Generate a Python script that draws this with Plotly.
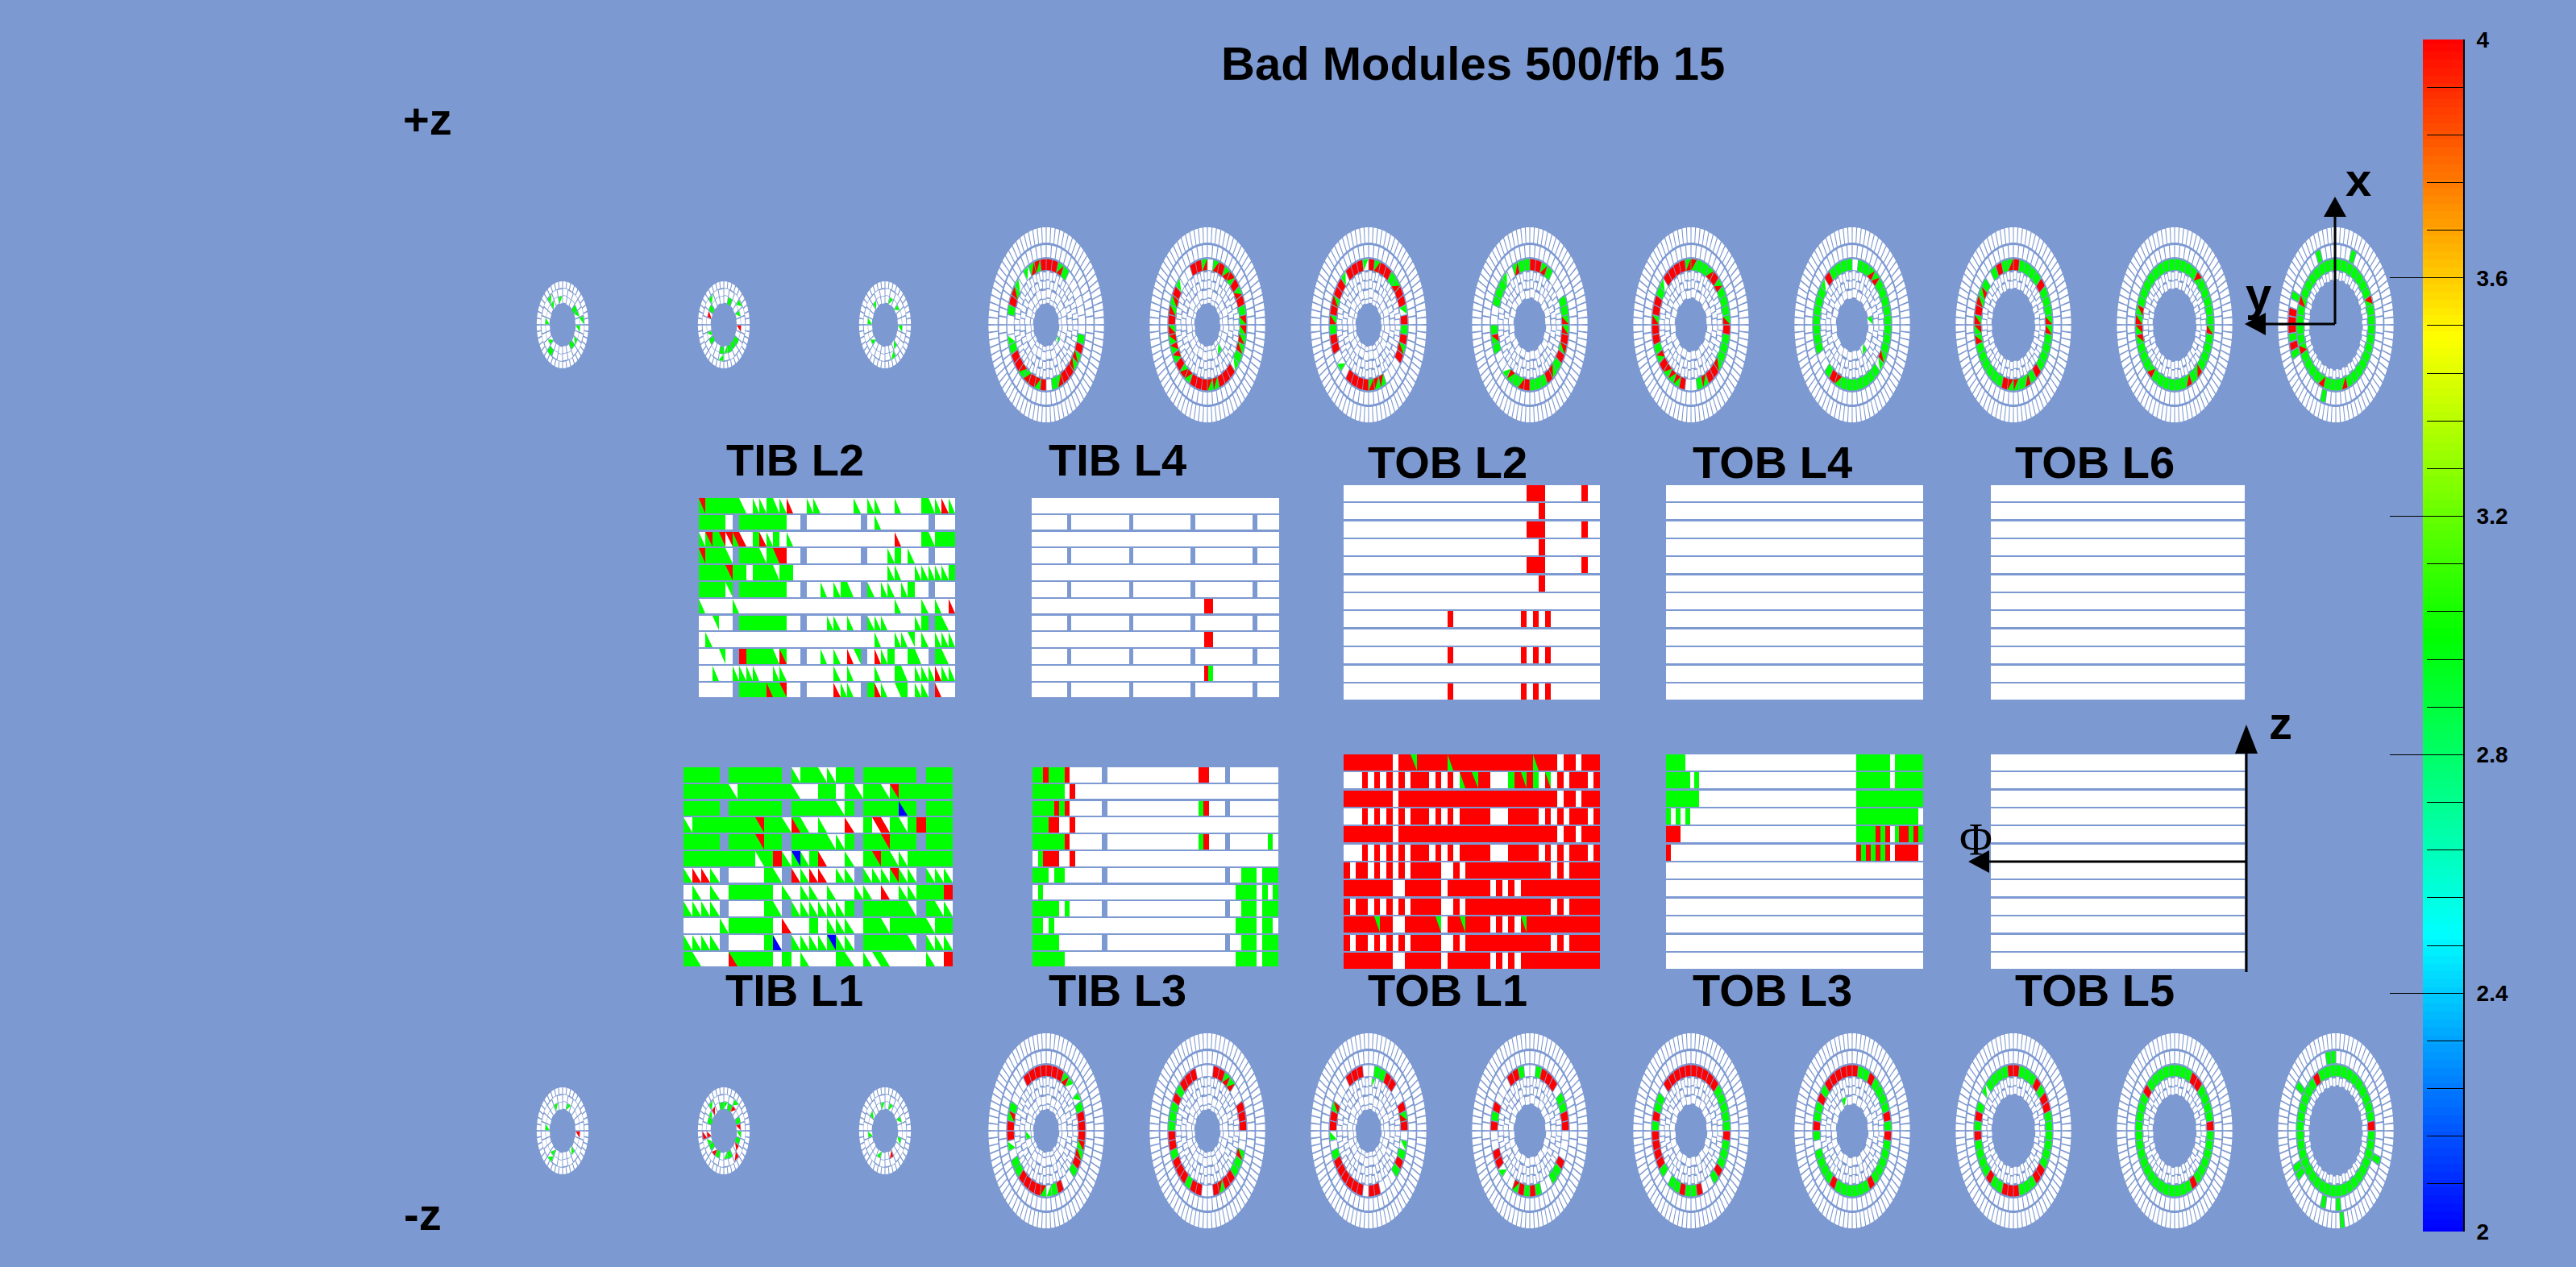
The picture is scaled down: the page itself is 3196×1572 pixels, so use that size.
import math
import numpy as np
import plotly.graph_objects as go

# ---------------- DATA: module states, one char per module ----------------
# w white, . gap, g green(3), r red(4), b blue(2)
# G/R/B lower triangle on white, H/S upper triangle on white
# M lower green+upper red, N lower red+upper green, Y lower blue+upper green, Z lower green+upper blue
TIB_L1 = [
 "gggg.gggggg.GggGGgg.gggggg.ggg",
 "gggggGggggggGwwggwgGggGMgggggg",
 "gggg.gggggg.gggggGg.ggggYg.ggg",
 "GgggggggMggGNGwGwwRwgSRgGgrggg",
 "gggg.gggMgg.ggggGGg.ggMggg.ggg",
 "ggggggggHgrGZGgRwwGwgMgGGggggg",
 "GRRG.wwwwgG.RGRRwGG.GGGMGG.GGG",
 "wGwGwgggggwGwGGwGwwGGwRwGGgggr",
 "GGGG.wwwwgG.GGGGGGg.gggggG.gGG",
 "wwwwGgggggwRwwgwGGGwggGggggGgg",
 "GGGG.wwwwgB.GGGGZGG.gggggG.GGG",
 "gGwwwNggggwgwGwwwgGwGHGwwwwGwr",
]
TIB_L2 = [
 "MgggggGwGGgGGRwwGGwwwwwGwGGwwGwwwgGGRG",
 "ggggw.gggggggww.wwwwwwww.wGwwwwwww.www",
 "GMgMSMRwgRGgwGwwwwwwwwwwwwwwwRwwwgGggg",
 "MgggG.gggGgMrww.wwwwwwww.wwwGgwGww.www",
 "ggggMggwgggGggwwwwwwwwwwwwwwGGwwGGGGGg",
 "ggggH.gggggggww.wwGwGgGw.GwGGwGgww.www",
 "GwwwwGwwwwwwwwwwwwwwwwwwwwwwwGwwwGwGwR",
 "wwHww.gggggggww.wwwGGwGw.GGGwwwwGg.gGw",
 "wGwwwwwwwwwwwwwwwwwwwwwwwwGwwGGHwGwGGG",
 "wwwHw.rggggGNww.wwGwGwRH.wRGgwwgGw.gGw",
 "wwGwwGGGGwwGGwwwwwwwGwGwwwGwwgGwGGGRGG",
 "wwwww.ggggNgMww.wwwwRGGw.gRGwHgwGG.Rww",
]
TIB_L3 = [
 "ggrgggrwwwwww.wwwwwwwwwwwwwwwwwrrwww.wwwwwwwww",
 "ggggggwrwwwwwwwwwwwwwwwwwwwwwwwwwwwwwwwwwwwwww",
 "ggggrgrwwwwww.wwwwwwwwwwwwwwwwwgrwww.wwwwwwwww",
 "gggrrwwrwwwwwwwwwwwwwwwwwwwwwwwwwwwwwwwwwwwwww",
 "ggggggrwwwwww.wwwwwwwwwwwwwwwwwgrwww.wwwwwwwgw",
 "wgrrrwwrwwwwwwwwwwwwwwwwwwwwwwwwwwwwwwwwwwwwww",
 "gggwggwwwwwww.wwwwwwwwwwwwwwwwwwwwww.wwgggwggg",
 "wgwwwwwwwwwwwwwwwwwwwwwwwwwwwwwwwwwwwwggggwgwg",
 "gggggwgwwwwww.wwwwwwwwwwwwwwwwwwwwww.wwgggwggg",
 "ggwgwwwwwwwwwwwwwwwwwwwwwwwwwwwwwwwwwwggggwggw",
 "gggggwwwwwwww.wwwwwwwwwwwwwwwwwwwwww.wwgggwggg",
 "ggggggwwwwwwwwwwwwwwwwwwwwwwwwwwwwwwwwggggwggg",
]
TIB_L4_A = "w" * 56
TIB_L4_B = "wwwwwwww.wwwwwwwwwwwww.wwwwwwwwwwwww.wwwwwwwwwwwww.wwwwww"[:56]
TIB_L4 = [
 TIB_L4_A, TIB_L4_B, TIB_L4_A, TIB_L4_B, TIB_L4_A, TIB_L4_B,
 "w" * 39 + "rr" + "w" * 15, TIB_L4_B,
 "w" * 39 + "rr" + "w" * 15, TIB_L4_B,
 "w" * 39 + "rg" + "w" * 15, TIB_L4_B,
]
TOB_A = "r" * 8 + "w" + "r" * 26 + "w" + "rr" + "w" + "rrr"
TOB_B = "wwwrwrwrwrwrrrwrwrw" + "rrrrr" + "www" + "rrrrr" + "wrwrw" + "rrr" + "wr"
TOB_C = "rwrrwrwrwrw" + "rrrrr" + "ww" + "rw" + "r" * 14 + "wrw" + "rrrrr"
TOB_D = "r" * 8 + "ww" + "r" * 6 + "w" + "r" * 7 + "wrwrw" + "r" * 13
TOB_L1 = [
 "rrrrrrrrwrrNrrrrrMrrrrrrrrrrrrrMrrrwrrwrrr",
 "wwwrwrwrwrwrrrwrwrwMrNrrwwwgrNrgwNwrwrrrwr",
 TOB_A, TOB_B, TOB_A, TOB_B, TOB_C, TOB_D, TOB_C,
 "rrrrrNrrwwrrrrrNwrrNrrrrwrwrwN" + "r" * 12,
 TOB_C, TOB_D,
]
TOB_L2_RED = "w" * 42
TOB_L2 = [
 "w" * 30 + "rrr" + "w" * 6 + "r" + "w" * 2,
 "w" * 32 + "r" + "w" * 9,
 "w" * 30 + "rrr" + "w" * 6 + "r" + "w" * 2,
 "w" * 32 + "r" + "w" * 9,
 "w" * 30 + "rrr" + "w" * 6 + "r" + "w" * 2,
 "w" * 32 + "r" + "w" * 9,
 TOB_L2_RED,
 "w" * 17 + "r" + "w" * 11 + "rwrwr" + "w" * 8,
 TOB_L2_RED,
 "w" * 17 + "r" + "w" * 11 + "rwrwr" + "w" * 8,
 TOB_L2_RED,
 "w" * 17 + "r" + "w" * 11 + "rwrwr" + "w" * 8,
]
TOB_L3 = [
 "gggg" + "w" * 36 + "g" * 7 + "w" + "g" * 6,
 "ggggg" + "wg" + "w" * 33 + "g" * 7 + "w" + "g" * 6,
 "g" * 7 + "w" * 33 + "g" * 14,
 "gwgwg" + "w" * 35 + "g" * 13 + "w",
 "rrr" + "w" * 37 + "gggg" + "rgrwgrrgrg",
 "r" + "w" * 39 + "rgrgrgrw" + "rrrrr" + "w",
] + ["w" * 54] * 6
TOB_EMPTY = ["w"] * 12

TID_TOP = [
 ("wwwgGwGwGgwwwwwGwwGwwGwG", "wwwwwGwwwwwwwwgwwwwwwGww"),
 ("wgwwGwRwgggGgwwgHwwRgwww", "wwwGwwwwwwwwGwwwwwwwwGww"),
 ("wGwGwwGwwGwwwwwGwwGwwGww", "wwwwwwwwwwGwwwwwwwwwwwww"),
]
TID_BOT = [
 ("wGwwwwRwwGwwwwGwwwGwwwGw", "wwwwwwwwwwwwwwGwwwwwwwww"),
 ("GgRwgRGgRwgGwgRgGRwgGRwg", "wwGwwwwwwRwwwwwwwRwwwGww"),
 ("wGwwGwwGwwRwwGwwwGwwGwwG", "wwwwwwwwwwwwwwwwwwwwwwww"),
]
TEC_R5_TOP = [
 "rrMgwwwwwwwgrMMrrNgwrMrNMrrgGwwgrNGwGMNr",
 "wMrMNrMrgNNMMgGrrrMMrrrMNrMMMNrNMrGwwrrM",
 "rMrrgMrrGrgrMrwwwMMNrrrrwGwrrgNrNrrGrrrG",
 "rrMgwwwggMMrNrgMrgggrNgMGwwgMgwwgggGwMgg",
 "NggMrMgggMrgggMrrMgwwrMMMrMgrrNrrgGrrrrM",
 "wggMMggggggggMGgggggggMrgwwgggggggGrgggg",
 "rggggrgggMMggggrgNgMMrggggggNMNrNMgwgrgM",
 "ggggNgggggMggggNgNggggggNgggMMNMgggggggg",
 "gggggggNggggggggggNgggNggggNggggNggggggg"[:40],
]
TEC_R5_BOT = [
 "rrrMGwGgrrrNMrgwwrgGMrrrrggwGrrMgwwwrrrr",
 "wrrMMwwrrrwwMggrrMrwwrrgrrrgrrgggrgrrrww",
 "wggrrwwrMrwGgrgwwwrrwrrrrrrgwGrrMwwwrrrw",
 "wgrrrwggrrwwwrggwwgrgrMwwGrrwwrgrwwwrrgw",
 "rrrrrgggggrgggrgwwrggrggwgrrrrgrggwrrrrr",
 "rggrggggrgrgggggrggggggrggggwgrggrgrrrrr",
 "rgggrgrrggggggrrgggrrrggrggggrgrgwGggggr",
 "gggrrggggrggggggrgggggggggggggggggrggggg",
 "gggggggggrggggggggggggggggggggggggggrggg",
]
# (row, disk, ring, module, state): modules of other rings
TEC_EXTRA = [
 ("top", 0, 1, 8, "G"), ("top", 1, 2, 9, "G"), ("top", 5, 2, 5, "G"), ("top", 5, 2, 9, "G"),
 ("top", 8, 6, 43, "r"), ("top", 8, 6, 42, "r"), ("top", 8, 6, 41, "r"), ("top", 8, 6, 40, "g"),
 ("top", 8, 6, 39, "r"), ("top", 8, 6, 52, "g"), ("top", 8, 6, 3, "g"), ("top", 8, 6, 45, "g"),
 ("top", 8, 6, 38, "g"), ("top", 8, 6, 30, "g"),
 ("bot", 0, 2, 17, "G"), ("bot", 2, 4, 1, "G"), ("bot", 5, 2, 22, "G"),
 ("bot", 8, 6, 55, "g"), ("bot", 8, 6, 54, "g"), ("bot", 8, 7, 38, "g"), ("bot", 8, 6, 27, "g"),
 ("bot", 8, 6, 47, "g"), ("bot", 8, 6, 37, "g"), ("bot", 8, 6, 36, "g"), ("bot", 8, 6, 17, "g"),
 ("bot", 8, 6, 30, "g"),
]
TEC_FIRST_RING = [1, 1, 1, 2, 2, 2, 3, 3, 4]
TEC_RING_COUNT = {1: 24, 2: 24, 3: 40, 4: 56, 5: 40, 6: 56, 7: 80}
TITLE = "Bad Modules 500/fb 15"
CBAR_TICKS = [2, 2.4, 2.8, 3.2, 3.6, 4]
CBAR_TICKTEXT = ["2", "2.4", "2.8", "3.2", "3.6", "4"]

# ---------------- LAYOUT constants (pixels of the page) ----------------
W, H = 3196, 1572
BG = "#7D99D1"
COL = {"w": "#FFFFFF", "g": "#00FF00", "r": "#FF0000", "b": "#0000FF"}
BASE = {"w": "w", "g": "g", "r": "r", "b": "b", "G": "w", "H": "w", "R": "w", "S": "w", "B": "w",
        "M": "g", "N": "g", "Y": "g", "Z": "g"}
TRI = {"G": ("low", "g"), "H": ("up", "g"), "R": ("low", "r"), "S": ("up", "r"), "B": ("low", "b"),
       "M": ("up", "r"), "N": ("low", "r"), "Y": ("low", "b"), "Z": ("up", "b")}
polys = {"w": ([], []), "g": ([], []), "r": ([], []), "b": ([], [])}
tri_queue = []


def add_poly(color, pts):
    xs, ys = polys[color]
    xs.extend(p[0] for p in pts)
    ys.extend(p[1] for p in pts)
    xs.extend([pts[0][0], None])
    ys.extend([pts[0][1], None])


def panel(rows, x0, x1, y0, pitch, height):
    n = max(len(r) for r in rows)
    w = (x1 - x0) / n
    for j, row in enumerate(rows):
        row = row.ljust(n, row[0] if len(row) == 1 else "w")[:n]
        top = round(y0 + j * pitch)
        bot = round(y0 + j * pitch + height)
        i = 0
        while i < n:
            c = row[i]
            if c == ".":
                i += 1
                continue
            b = BASE[c]
            k = i
            while k + 1 < n and row[k + 1] != "." and BASE[row[k + 1]] == b:
                k += 1
            xa, xb = round(x0 + i * w), round(x0 + (k + 1) * w)
            add_poly(b, [(xa, top), (xb, top), (xb, bot), (xa, bot)])
            for m in range(i, k + 1):
                if row[m] in TRI:
                    kind, col = TRI[row[m]]
                    ca, cb = round(x0 + m * w), round(x0 + (m + 1) * w)
                    if kind == "low":
                        tri_queue.append((col, [(ca, top), (ca, bot), (cb, bot)]))
                    else:
                        tri_queue.append((col, [(ca, top), (cb, top), (cb, bot)]))
            i = k + 1


def module(cx, cy, r0, r1, i, n, state, gapfrac, aspect=1.69):
    step = 2 * math.pi / n
    gap = step * gapfrac
    a0, a1 = i * step + gap / 2, (i + 1) * step - gap / 2

    def P(r, a):
        return (cx + r / aspect * math.sin(a), cy - r * math.cos(a))

    am = (a0 + a1) / 2
    shape = [P(r0, a0), P(r1, a0), P(r1, am), P(r1, a1), P(r0, a1), P(r0, am)]
    add_poly(BASE[state], shape)
    if state in TRI:
        kind, col = TRI[state]
        if kind == "low":
            tri_queue.append((col, [P(r0, a0), P(r1, a0), P(r1, a1)]))
        else:
            tri_queue.append((col, [P(r0, a0), P(r1, a1), P(r0, a1)]))


RING_R = {1: (27, 32), 2: (33.5, 43.5), 3: (45.5, 54.5), 4: (56, 66), 5: (68, 81.5), 6: (84, 99), 7: (102, 121)}
RING_GAP = {1: .14, 2: .12, 3: .2, 4: .2, 5: .12, 6: .18, 7: .2}
STAGGER = {1: 1.2, 2: 1.6, 3: 1.2, 4: 1.6, 5: 0, 6: 0, 7: 0}
TID_R = [(27.5, 36), (36.8, 45), (45.8, 54)]
TID_N = [24, 24, 40]
TID_GAP = [.18, .15, .22]
TID_X = [698, 898, 1098]
TEC_X = [1298, 1498, 1698, 1898, 2098, 2298, 2498, 2698, 2898]
ROW_Y = {"top": 403, "bot": 1403}

for row, tid, r5 in (("top", TID_TOP, TEC_R5_TOP), ("bot", TID_BOT, TEC_R5_BOT)):
    cy = ROW_Y[row]
    for cx, (s1, s2) in zip(TID_X, tid):
        for q, (r0, r1) in enumerate(TID_R):
            for i in range(TID_N[q]):
                st = s1[i] if q == 0 else s2[i] if q == 1 else "w"
                off = 0.8 if (q < 2 and i % 2) else 0
                module(cx, cy, r0 - off, r1 - off, i, TID_N[q], st, TID_GAP[q], 1.68)
    for d, cx in enumerate(TEC_X):
        extra = {(e[2], e[3]): e[4] for e in TEC_EXTRA if e[0] == row and e[1] == d}
        for ring in range(TEC_FIRST_RING[d], 8):
            n = TEC_RING_COUNT[ring]
            r0, r1 = RING_R[ring]
            for i in range(n):
                st = r5[d][i] if ring == 5 else "w"
                st = extra.get((ring, i), st)
                off = STAGGER[ring] if i % 2 else 0
                module(cx, cy, r0 - off + STAGGER[ring] / 2, r1 - off + STAGGER[ring] / 2, i, n, st, RING_GAP[ring])

PITCH_TIB, H_TIB = 20.8, 18.6
PITCH_TOB, H_TOB = 22.35, 20.0
panel(TIB_L2, 867, 1185, 618, PITCH_TIB, H_TIB)
panel(TIB_L4, 1280, 1587, 618, PITCH_TIB, H_TIB)
panel(TOB_L2, 1667, 1985, 602, PITCH_TOB, H_TOB)
panel(TOB_EMPTY, 2067, 2386, 602, PITCH_TOB, H_TOB)
panel(TOB_EMPTY, 2470, 2785, 602, PITCH_TOB, H_TOB)
panel(TIB_L1, 848, 1182, 952, PITCH_TIB, H_TIB)
panel(TIB_L3, 1281, 1586, 952, PITCH_TIB, H_TIB)
panel(TOB_L1, 1667, 1985, 936, PITCH_TOB, H_TOB)
panel(TOB_L3, 2067, 2386, 936, PITCH_TOB, H_TOB)
panel(TOB_EMPTY, 2470, 2785, 936, PITCH_TOB, H_TOB)

fig = go.Figure()
for key in ("w", "g", "r", "b"):
    xs, ys = polys[key]
    fig.add_trace(go.Scatter(x=xs, y=ys, mode="lines", fill="toself", fillcolor=COL[key],
                             line=dict(width=0, color=COL[key], simplify=False),
                             hoverinfo="skip", showlegend=False, xaxis="x", yaxis="y"))
# triangles lie above every rectangle, whatever its colour
for key in ("g", "r", "b"):
    tx, ty = [], []
    for col, pts in tri_queue:
        if col == key:
            for p in pts:
                tx.append(p[0]); ty.append(p[1])
            tx.extend([pts[0][0], None]); ty.extend([pts[0][1], None])
    fig.add_trace(go.Scatter(x=tx, y=ty, mode="lines", fill="toself", fillcolor=COL[key],
                             line=dict(width=0, color=COL[key], simplify=False),
                             hoverinfo="skip", showlegend=False, xaxis="x", yaxis="y"))

# colour bar on its own axes
levels = np.linspace(2, 4, 150)
fig.add_trace(go.Heatmap(z=[[v] for v in levels], y=levels, x=[0.5], xaxis="x2", yaxis="y2",
                         zmin=2, zmax=4, showscale=False, hoverinfo="skip",
                         colorscale=[[0, "#0000FF"], [0.25, "#00FFFF"], [0.5, "#00FF00"],
                                     [0.75, "#FFFF00"], [1, "#FF0000"]]))

BLD = dict(family="Liberation Sans", color="black", weight=700)
labels = [
 (TITLE, 1827, 78, 58), ("+z", 530, 147, 56), ("-z", 524, 1506, 56),
 ("TIB L2", 986, 570, 56), ("TIB L4", 1386, 570, 56), ("TOB L2", 1796, 573, 56),
 ("TOB L4", 2199, 573, 56), ("TOB L6", 2599, 573, 56),
 ("TIB L1", 985, 1228, 56), ("TIB L3", 1386, 1228, 56), ("TOB L1", 1796, 1228, 56),
 ("TOB L3", 2199, 1228, 56), ("TOB L5", 2599, 1228, 56),
 ("x", 2926, 222, 58), ("y", 2802, 364, 58), ("z", 2829, 896, 58),
]
ann = [dict(text=t, x=x, y=y, xref="x", yref="y", showarrow=False, xanchor="center", yanchor="middle",
            font=dict(size=s, **BLD)) for t, x, y, s in labels]
ann.append(dict(text="Φ", x=2451, y=1042, xref="x", yref="y", showarrow=False,
                font=dict(size=56, family="Liberation Serif", color="black")))


def seg(x0, y0, x1, y1):
    return dict(type="line", xref="x", yref="y", x0=x0, y0=y0, x1=x1, y1=y1,
                line=dict(color="black", width=3), layer="above")


def head(path):
    return dict(type="path", xref="x", yref="y", path=path, fillcolor="black",
                line=dict(color="black", width=0), layer="above")


shapes = [
 seg(2897, 402, 2897, 268), head("M 2897 244 L 2883 269 L 2911 269 Z"),
 seg(2897, 402, 2810, 402), head("M 2785 402 L 2811 388 L 2811 416 Z"),
 seg(2787, 1206, 2787, 930), head("M 2787 899 L 2773 935 L 2801 935 Z"),
 seg(2787, 1069, 2466, 1069), head("M 2442 1069 L 2468 1055 L 2468 1083 Z"),
]

fig.update_layout(
    width=W, height=H, autosize=False, margin=dict(l=0, r=0, t=0, b=0, pad=0),
    paper_bgcolor=BG, plot_bgcolor=BG, showlegend=False,
    xaxis=dict(range=[0, W], domain=[0, 1], visible=False, fixedrange=True, automargin=False),
    yaxis=dict(range=[H, 0], domain=[0, 1], visible=False, fixedrange=True, automargin=False),
    xaxis2=dict(domain=[3006 / W, 3056 / W], range=[0, 1], visible=False, anchor="y2", fixedrange=True,
                automargin=False),
    yaxis2=dict(domain=[1 - 1528 / H, 1 - 49 / H], range=[2, 4], anchor="x2", side="right",
                automargin=False,
                showgrid=False, zeroline=False, showline=True, linecolor="black", linewidth=2,
                tickmode="array", tickvals=CBAR_TICKS, ticktext=CBAR_TICKTEXT,
                ticks="inside", ticklen=91, tickwidth=1, tickcolor="black",
                ticklabelstandoff=9,
                tickfont=dict(size=28, **BLD),
                minor=dict(dtick=0.08, tick0=2, ticks="inside", ticklen=45, tickwidth=1,
                           tickcolor="black", showgrid=False),
                fixedrange=True),
    annotations=ann, shapes=shapes,
)
fig.write_html("out.html", post_script="document.body.style.margin='0';document.body.style.background='%s';" % BG,
               config=dict(displayModeBar=False))
